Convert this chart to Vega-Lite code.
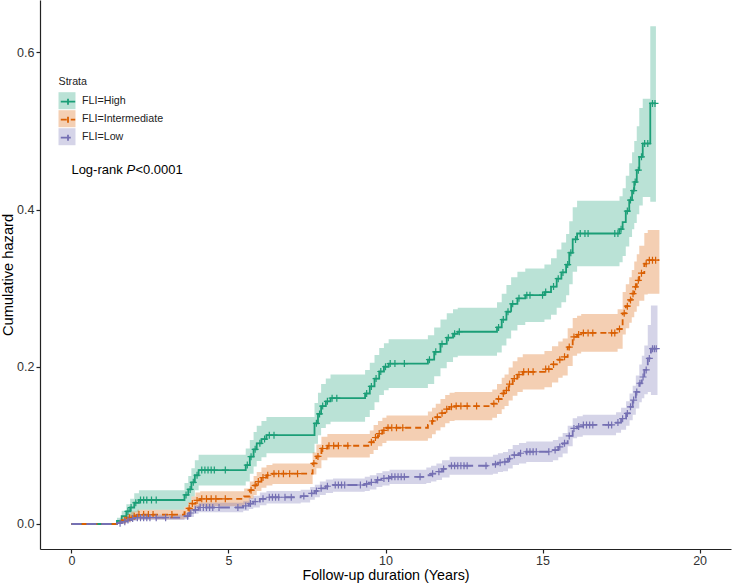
{
  "$schema": "https://vega.github.io/schema/vega-lite/v6.json",
  "width": 691,
  "height": 549,
  "autosize": {"type": "none"},
  "padding": {"left": 40, "top": 0, "right": 2, "bottom": 35},
  "background": "white",
  "config": {
    "view": {"stroke": null},
    "font": "Liberation Sans",
    "axis": {
      "grid": false,
      "domainColor": "#222222",
      "domainWidth": 1.2,
      "tickColor": "#222222",
      "tickWidth": 1.2,
      "tickSize": 4,
      "labelFontSize": 12.5,
      "labelColor": "#333333",
      "labelPadding": 2,
      "titleFontSize": 14.67,
      "titleFontWeight": "normal",
      "titleColor": "#000000"
    }
  },
  "datasets": {
    "curve": [
      {"s":"FLI=High","t":0,"v":0,"lo":0,"hi":0},
      {"s":"FLI=High","t":1.45,"v":0.004,"lo":0.0,"hi":0.008},
      {"s":"FLI=High","t":1.6,"v":0.010,"lo":0.003,"hi":0.017},
      {"s":"FLI=High","t":1.75,"v":0.016,"lo":0.007,"hi":0.025},
      {"s":"FLI=High","t":1.87,"v":0.021,"lo":0.010,"hi":0.032},
      {"s":"FLI=High","t":2.0,"v":0.027,"lo":0.015,"hi":0.039},
      {"s":"FLI=High","t":2.15,"v":0.0305,"lo":0.018,"hi":0.043},
      {"s":"FLI=High","t":3.6,"v":0.037,"lo":0.022,"hi":0.052},
      {"s":"FLI=High","t":3.72,"v":0.044,"lo":0.027,"hi":0.061},
      {"s":"FLI=High","t":3.82,"v":0.053,"lo":0.035,"hi":0.071},
      {"s":"FLI=High","t":3.93,"v":0.062,"lo":0.043,"hi":0.081},
      {"s":"FLI=High","t":4.05,"v":0.0686,"lo":0.049,"hi":0.088},
      {"s":"FLI=High","t":5.55,"v":0.075,"lo":0.054,"hi":0.096},
      {"s":"FLI=High","t":5.68,"v":0.0856,"lo":0.064,"hi":0.107},
      {"s":"FLI=High","t":5.8,"v":0.095,"lo":0.073,"hi":0.117},
      {"s":"FLI=High","t":5.9,"v":0.1026,"lo":0.080,"hi":0.125},
      {"s":"FLI=High","t":6.05,"v":0.108,"lo":0.085,"hi":0.131},
      {"s":"FLI=High","t":6.21,"v":0.113,"lo":0.090,"hi":0.136},
      {"s":"FLI=High","t":7.74,"v":0.128,"lo":0.102,"hi":0.154},
      {"s":"FLI=High","t":7.85,"v":0.140,"lo":0.113,"hi":0.167},
      {"s":"FLI=High","t":7.95,"v":0.150,"lo":0.122,"hi":0.178},
      {"s":"FLI=High","t":8.1,"v":0.156,"lo":0.127,"hi":0.185},
      {"s":"FLI=High","t":8.25,"v":0.160,"lo":0.130,"hi":0.190},
      {"s":"FLI=High","t":9.35,"v":0.166,"lo":0.136,"hi":0.196},
      {"s":"FLI=High","t":9.5,"v":0.175,"lo":0.145,"hi":0.205},
      {"s":"FLI=High","t":9.65,"v":0.185,"lo":0.155,"hi":0.215},
      {"s":"FLI=High","t":9.8,"v":0.194,"lo":0.164,"hi":0.224},
      {"s":"FLI=High","t":9.95,"v":0.200,"lo":0.170,"hi":0.230},
      {"s":"FLI=High","t":10.1,"v":0.204,"lo":0.173,"hi":0.235},
      {"s":"FLI=High","t":11.35,"v":0.209,"lo":0.178,"hi":0.240},
      {"s":"FLI=High","t":11.55,"v":0.219,"lo":0.188,"hi":0.250},
      {"s":"FLI=High","t":11.75,"v":0.229,"lo":0.198,"hi":0.260},
      {"s":"FLI=High","t":11.95,"v":0.237,"lo":0.206,"hi":0.268},
      {"s":"FLI=High","t":12.15,"v":0.242,"lo":0.212,"hi":0.273},
      {"s":"FLI=High","t":12.3,"v":0.2445,"lo":0.214,"hi":0.275},
      {"s":"FLI=High","t":13.55,"v":0.250,"lo":0.218,"hi":0.282},
      {"s":"FLI=High","t":13.7,"v":0.260,"lo":0.227,"hi":0.293},
      {"s":"FLI=High","t":13.85,"v":0.270,"lo":0.236,"hi":0.304},
      {"s":"FLI=High","t":14.0,"v":0.280,"lo":0.246,"hi":0.314},
      {"s":"FLI=High","t":14.2,"v":0.287,"lo":0.253,"hi":0.321},
      {"s":"FLI=High","t":14.45,"v":0.291,"lo":0.257,"hi":0.325},
      {"s":"FLI=High","t":15.06,"v":0.295,"lo":0.260,"hi":0.330},
      {"s":"FLI=High","t":15.27,"v":0.302,"lo":0.266,"hi":0.338},
      {"s":"FLI=High","t":15.45,"v":0.312,"lo":0.275,"hi":0.349},
      {"s":"FLI=High","t":15.6,"v":0.320,"lo":0.282,"hi":0.358},
      {"s":"FLI=High","t":15.75,"v":0.330,"lo":0.291,"hi":0.369},
      {"s":"FLI=High","t":15.85,"v":0.345,"lo":0.305,"hi":0.385},
      {"s":"FLI=High","t":15.96,"v":0.362,"lo":0.321,"hi":0.403},
      {"s":"FLI=High","t":16.1,"v":0.3695,"lo":0.328,"hi":0.411},
      {"s":"FLI=High","t":17.45,"v":0.375,"lo":0.333,"hi":0.417},
      {"s":"FLI=High","t":17.55,"v":0.384,"lo":0.341,"hi":0.427},
      {"s":"FLI=High","t":17.65,"v":0.398,"lo":0.353,"hi":0.443},
      {"s":"FLI=High","t":17.76,"v":0.412,"lo":0.365,"hi":0.459},
      {"s":"FLI=High","t":17.85,"v":0.424,"lo":0.375,"hi":0.473},
      {"s":"FLI=High","t":17.92,"v":0.435,"lo":0.383,"hi":0.487},
      {"s":"FLI=High","t":18.0,"v":0.450,"lo":0.394,"hi":0.506},
      {"s":"FLI=High","t":18.08,"v":0.467,"lo":0.405,"hi":0.529},
      {"s":"FLI=High","t":18.19,"v":0.484,"lo":0.416,"hi":0.541},
      {"s":"FLI=High","t":18.43,"v":0.535,"lo":0.410,"hi":0.633},
      {"s":"FLI=High","t":18.61,"v":0.535,"lo":0.410,"hi":0.633},

      {"s":"FLI=Intermediate","t":0,"v":0,"lo":0,"hi":0},
      {"s":"FLI=Intermediate","t":1.45,"v":0.002,"lo":0.0,"hi":0.004},
      {"s":"FLI=Intermediate","t":1.6,"v":0.005,"lo":0.001,"hi":0.009},
      {"s":"FLI=Intermediate","t":1.75,"v":0.008,"lo":0.003,"hi":0.013},
      {"s":"FLI=Intermediate","t":1.9,"v":0.010,"lo":0.005,"hi":0.016},
      {"s":"FLI=Intermediate","t":2.1,"v":0.012,"lo":0.006,"hi":0.018},
      {"s":"FLI=Intermediate","t":3.6,"v":0.015,"lo":0.008,"hi":0.022},
      {"s":"FLI=Intermediate","t":3.72,"v":0.020,"lo":0.012,"hi":0.028},
      {"s":"FLI=Intermediate","t":3.82,"v":0.026,"lo":0.017,"hi":0.035},
      {"s":"FLI=Intermediate","t":3.95,"v":0.030,"lo":0.021,"hi":0.040},
      {"s":"FLI=Intermediate","t":4.1,"v":0.032,"lo":0.0225,"hi":0.0415},
      {"s":"FLI=Intermediate","t":5.5,"v":0.035,"lo":0.025,"hi":0.045},
      {"s":"FLI=Intermediate","t":5.68,"v":0.043,"lo":0.032,"hi":0.054},
      {"s":"FLI=Intermediate","t":5.8,"v":0.049,"lo":0.037,"hi":0.061},
      {"s":"FLI=Intermediate","t":5.9,"v":0.054,"lo":0.042,"hi":0.066},
      {"s":"FLI=Intermediate","t":6.05,"v":0.059,"lo":0.046,"hi":0.072},
      {"s":"FLI=Intermediate","t":6.21,"v":0.062,"lo":0.049,"hi":0.075},
      {"s":"FLI=Intermediate","t":6.4,"v":0.064,"lo":0.051,"hi":0.077},
      {"s":"FLI=Intermediate","t":7.68,"v":0.077,"lo":0.063,"hi":0.091},
      {"s":"FLI=Intermediate","t":7.8,"v":0.086,"lo":0.071,"hi":0.101},
      {"s":"FLI=Intermediate","t":7.96,"v":0.096,"lo":0.081,"hi":0.111},
      {"s":"FLI=Intermediate","t":8.15,"v":0.0995,"lo":0.0845,"hi":0.1145},
      {"s":"FLI=Intermediate","t":9.5,"v":0.104,"lo":0.089,"hi":0.119},
      {"s":"FLI=Intermediate","t":9.62,"v":0.110,"lo":0.094,"hi":0.126},
      {"s":"FLI=Intermediate","t":9.76,"v":0.115,"lo":0.099,"hi":0.131},
      {"s":"FLI=Intermediate","t":9.9,"v":0.119,"lo":0.103,"hi":0.135},
      {"s":"FLI=Intermediate","t":10.03,"v":0.1224,"lo":0.106,"hi":0.138},
      {"s":"FLI=Intermediate","t":11.35,"v":0.126,"lo":0.109,"hi":0.143},
      {"s":"FLI=Intermediate","t":11.48,"v":0.131,"lo":0.114,"hi":0.148},
      {"s":"FLI=Intermediate","t":11.6,"v":0.136,"lo":0.119,"hi":0.153},
      {"s":"FLI=Intermediate","t":11.75,"v":0.141,"lo":0.123,"hi":0.159},
      {"s":"FLI=Intermediate","t":11.9,"v":0.146,"lo":0.128,"hi":0.164},
      {"s":"FLI=Intermediate","t":12.04,"v":0.149,"lo":0.131,"hi":0.167},
      {"s":"FLI=Intermediate","t":12.2,"v":0.150,"lo":0.132,"hi":0.168},
      {"s":"FLI=Intermediate","t":13.4,"v":0.153,"lo":0.135,"hi":0.171},
      {"s":"FLI=Intermediate","t":13.55,"v":0.159,"lo":0.140,"hi":0.178},
      {"s":"FLI=Intermediate","t":13.7,"v":0.166,"lo":0.146,"hi":0.186},
      {"s":"FLI=Intermediate","t":13.79,"v":0.170,"lo":0.150,"hi":0.190},
      {"s":"FLI=Intermediate","t":13.92,"v":0.178,"lo":0.157,"hi":0.199},
      {"s":"FLI=Intermediate","t":14.05,"v":0.185,"lo":0.163,"hi":0.207},
      {"s":"FLI=Intermediate","t":14.2,"v":0.190,"lo":0.168,"hi":0.212},
      {"s":"FLI=Intermediate","t":14.37,"v":0.1936,"lo":0.171,"hi":0.216},
      {"s":"FLI=Intermediate","t":15.06,"v":0.197,"lo":0.174,"hi":0.220},
      {"s":"FLI=Intermediate","t":15.3,"v":0.203,"lo":0.180,"hi":0.226},
      {"s":"FLI=Intermediate","t":15.5,"v":0.209,"lo":0.186,"hi":0.232},
      {"s":"FLI=Intermediate","t":15.64,"v":0.2127,"lo":0.189,"hi":0.236},
      {"s":"FLI=Intermediate","t":15.8,"v":0.225,"lo":0.201,"hi":0.249},
      {"s":"FLI=Intermediate","t":15.96,"v":0.238,"lo":0.214,"hi":0.262},
      {"s":"FLI=Intermediate","t":16.1,"v":0.241,"lo":0.217,"hi":0.265},
      {"s":"FLI=Intermediate","t":16.23,"v":0.243,"lo":0.219,"hi":0.267},
      {"s":"FLI=Intermediate","t":17.39,"v":0.248,"lo":0.223,"hi":0.273},
      {"s":"FLI=Intermediate","t":17.55,"v":0.268,"lo":0.241,"hi":0.295},
      {"s":"FLI=Intermediate","t":17.65,"v":0.277,"lo":0.249,"hi":0.305},
      {"s":"FLI=Intermediate","t":17.76,"v":0.285,"lo":0.256,"hi":0.314},
      {"s":"FLI=Intermediate","t":17.84,"v":0.293,"lo":0.263,"hi":0.323},
      {"s":"FLI=Intermediate","t":17.92,"v":0.3017,"lo":0.270,"hi":0.334},
      {"s":"FLI=Intermediate","t":18.0,"v":0.310,"lo":0.277,"hi":0.343},
      {"s":"FLI=Intermediate","t":18.08,"v":0.319,"lo":0.284,"hi":0.354},
      {"s":"FLI=Intermediate","t":18.24,"v":0.331,"lo":0.292,"hi":0.370},
      {"s":"FLI=Intermediate","t":18.35,"v":0.3356,"lo":0.293,"hi":0.374},
      {"s":"FLI=Intermediate","t":18.72,"v":0.3356,"lo":0.293,"hi":0.374},

      {"s":"FLI=Low","t":0,"v":0,"lo":0,"hi":0},
      {"s":"FLI=Low","t":1.45,"v":0.001,"lo":0.0,"hi":0.003},
      {"s":"FLI=Low","t":1.6,"v":0.003,"lo":0.001,"hi":0.005},
      {"s":"FLI=Low","t":1.75,"v":0.005,"lo":0.002,"hi":0.008},
      {"s":"FLI=Low","t":1.9,"v":0.007,"lo":0.004,"hi":0.010},
      {"s":"FLI=Low","t":2.1,"v":0.008,"lo":0.005,"hi":0.012},
      {"s":"FLI=Low","t":3.6,"v":0.010,"lo":0.006,"hi":0.014},
      {"s":"FLI=Low","t":3.75,"v":0.014,"lo":0.009,"hi":0.019},
      {"s":"FLI=Low","t":3.9,"v":0.018,"lo":0.013,"hi":0.024},
      {"s":"FLI=Low","t":4.05,"v":0.021,"lo":0.015,"hi":0.027},
      {"s":"FLI=Low","t":5.47,"v":0.023,"lo":0.017,"hi":0.029},
      {"s":"FLI=Low","t":5.65,"v":0.026,"lo":0.019,"hi":0.033},
      {"s":"FLI=Low","t":5.79,"v":0.0284,"lo":0.021,"hi":0.036},
      {"s":"FLI=Low","t":6.0,"v":0.032,"lo":0.024,"hi":0.040},
      {"s":"FLI=Low","t":6.21,"v":0.034,"lo":0.026,"hi":0.042},
      {"s":"FLI=Low","t":7.3,"v":0.0355,"lo":0.0275,"hi":0.0435},
      {"s":"FLI=Low","t":7.6,"v":0.039,"lo":0.031,"hi":0.047},
      {"s":"FLI=Low","t":7.75,"v":0.042,"lo":0.034,"hi":0.050},
      {"s":"FLI=Low","t":7.91,"v":0.0454,"lo":0.037,"hi":0.054},
      {"s":"FLI=Low","t":8.1,"v":0.048,"lo":0.0395,"hi":0.0565},
      {"s":"FLI=Low","t":8.33,"v":0.0496,"lo":0.041,"hi":0.058},
      {"s":"FLI=Low","t":9.34,"v":0.051,"lo":0.042,"hi":0.060},
      {"s":"FLI=Low","t":9.5,"v":0.053,"lo":0.044,"hi":0.062},
      {"s":"FLI=Low","t":9.71,"v":0.056,"lo":0.047,"hi":0.065},
      {"s":"FLI=Low","t":9.9,"v":0.058,"lo":0.049,"hi":0.067},
      {"s":"FLI=Low","t":10.13,"v":0.060,"lo":0.051,"hi":0.069},
      {"s":"FLI=Low","t":11.3,"v":0.062,"lo":0.052,"hi":0.072},
      {"s":"FLI=Low","t":11.45,"v":0.064,"lo":0.054,"hi":0.074},
      {"s":"FLI=Low","t":11.62,"v":0.0665,"lo":0.056,"hi":0.077},
      {"s":"FLI=Low","t":11.8,"v":0.070,"lo":0.059,"hi":0.081},
      {"s":"FLI=Low","t":12.04,"v":0.0741,"lo":0.0626,"hi":0.0856},
      {"s":"FLI=Low","t":13.42,"v":0.076,"lo":0.064,"hi":0.088},
      {"s":"FLI=Low","t":13.58,"v":0.078,"lo":0.066,"hi":0.090},
      {"s":"FLI=Low","t":13.74,"v":0.0792,"lo":0.067,"hi":0.0915},
      {"s":"FLI=Low","t":13.9,"v":0.083,"lo":0.0705,"hi":0.0955},
      {"s":"FLI=Low","t":14.05,"v":0.0877,"lo":0.075,"hi":0.1005},
      {"s":"FLI=Low","t":14.25,"v":0.090,"lo":0.077,"hi":0.103},
      {"s":"FLI=Low","t":14.48,"v":0.0919,"lo":0.0789,"hi":0.1049},
      {"s":"FLI=Low","t":15.33,"v":0.094,"lo":0.081,"hi":0.107},
      {"s":"FLI=Low","t":15.5,"v":0.098,"lo":0.085,"hi":0.111},
      {"s":"FLI=Low","t":15.64,"v":0.1026,"lo":0.0896,"hi":0.1156},
      {"s":"FLI=Low","t":15.8,"v":0.112,"lo":0.099,"hi":0.125},
      {"s":"FLI=Low","t":15.96,"v":0.1216,"lo":0.109,"hi":0.1345},
      {"s":"FLI=Low","t":16.1,"v":0.124,"lo":0.111,"hi":0.137},
      {"s":"FLI=Low","t":16.28,"v":0.126,"lo":0.113,"hi":0.139},
      {"s":"FLI=Low","t":17.34,"v":0.129,"lo":0.116,"hi":0.142},
      {"s":"FLI=Low","t":17.5,"v":0.134,"lo":0.120,"hi":0.148},
      {"s":"FLI=Low","t":17.66,"v":0.1407,"lo":0.125,"hi":0.156},
      {"s":"FLI=Low","t":17.77,"v":0.149,"lo":0.132,"hi":0.166},
      {"s":"FLI=Low","t":17.87,"v":0.1576,"lo":0.139,"hi":0.176},
      {"s":"FLI=Low","t":17.97,"v":0.168,"lo":0.147,"hi":0.189},
      {"s":"FLI=Low","t":18.08,"v":0.179,"lo":0.155,"hi":0.203},
      {"s":"FLI=Low","t":18.16,"v":0.187,"lo":0.160,"hi":0.214},
      {"s":"FLI=Low","t":18.24,"v":0.196,"lo":0.165,"hi":0.227},
      {"s":"FLI=Low","t":18.35,"v":0.2106,"lo":0.168,"hi":0.253},
      {"s":"FLI=Low","t":18.45,"v":0.223,"lo":0.164,"hi":0.278},
      {"s":"FLI=Low","t":18.66,"v":0.223,"lo":0.164,"hi":0.278}
    ],
    "censor": [
      {"s":"FLI=High","t":1.8,"v":0.016},{"s":"FLI=High","t":1.9,"v":0.021},{"s":"FLI=High","t":2.05,"v":0.027},
      {"s":"FLI=High","t":2.2,"v":0.0305},{"s":"FLI=High","t":2.3,"v":0.0305},{"s":"FLI=High","t":2.4,"v":0.0305},
      {"s":"FLI=High","t":2.55,"v":0.0305},{"s":"FLI=High","t":2.7,"v":0.0305},
      {"s":"FLI=High","t":3.65,"v":0.037},{"s":"FLI=High","t":3.78,"v":0.044},{"s":"FLI=High","t":3.88,"v":0.053},
      {"s":"FLI=High","t":4.0,"v":0.062},{"s":"FLI=High","t":4.15,"v":0.0686},{"s":"FLI=High","t":4.25,"v":0.0686},
      {"s":"FLI=High","t":4.35,"v":0.0686},{"s":"FLI=High","t":4.45,"v":0.0686},{"s":"FLI=High","t":4.55,"v":0.0686},
      {"s":"FLI=High","t":4.9,"v":0.0686},
      {"s":"FLI=High","t":5.6,"v":0.075},{"s":"FLI=High","t":5.72,"v":0.0856},{"s":"FLI=High","t":5.85,"v":0.095},
      {"s":"FLI=High","t":6.0,"v":0.1026},{"s":"FLI=High","t":6.15,"v":0.108},{"s":"FLI=High","t":6.3,"v":0.113},
      {"s":"FLI=High","t":6.45,"v":0.113},
      {"s":"FLI=High","t":7.8,"v":0.128},{"s":"FLI=High","t":7.9,"v":0.140},{"s":"FLI=High","t":8.0,"v":0.150},
      {"s":"FLI=High","t":8.15,"v":0.156},{"s":"FLI=High","t":8.3,"v":0.160},{"s":"FLI=High","t":8.45,"v":0.160},
      {"s":"FLI=High","t":9.4,"v":0.166},{"s":"FLI=High","t":9.55,"v":0.175},{"s":"FLI=High","t":9.7,"v":0.185},
      {"s":"FLI=High","t":9.85,"v":0.194},{"s":"FLI=High","t":10.0,"v":0.200},{"s":"FLI=High","t":10.15,"v":0.204},
      {"s":"FLI=High","t":10.3,"v":0.204},{"s":"FLI=High","t":10.6,"v":0.204},
      {"s":"FLI=High","t":11.4,"v":0.209},{"s":"FLI=High","t":11.6,"v":0.219},{"s":"FLI=High","t":11.8,"v":0.229},
      {"s":"FLI=High","t":12.0,"v":0.237},{"s":"FLI=High","t":12.2,"v":0.242},{"s":"FLI=High","t":12.35,"v":0.2445},
      {"s":"FLI=High","t":13.6,"v":0.250},{"s":"FLI=High","t":13.75,"v":0.260},{"s":"FLI=High","t":13.9,"v":0.270},
      {"s":"FLI=High","t":14.05,"v":0.280},{"s":"FLI=High","t":14.25,"v":0.287},{"s":"FLI=High","t":14.5,"v":0.291},
      {"s":"FLI=High","t":14.6,"v":0.291},{"s":"FLI=High","t":15.0,"v":0.291},
      {"s":"FLI=High","t":15.1,"v":0.295},{"s":"FLI=High","t":15.35,"v":0.302},{"s":"FLI=High","t":15.5,"v":0.312},
      {"s":"FLI=High","t":15.65,"v":0.320},{"s":"FLI=High","t":15.8,"v":0.330},{"s":"FLI=High","t":15.9,"v":0.345},
      {"s":"FLI=High","t":16.05,"v":0.362},{"s":"FLI=High","t":16.2,"v":0.3695},{"s":"FLI=High","t":16.35,"v":0.3695},
      {"s":"FLI=High","t":16.45,"v":0.3695},{"s":"FLI=High","t":17.3,"v":0.3695},{"s":"FLI=High","t":17.4,"v":0.3695},
      {"s":"FLI=High","t":17.5,"v":0.375},{"s":"FLI=High","t":17.7,"v":0.398},{"s":"FLI=High","t":17.8,"v":0.412},
      {"s":"FLI=High","t":17.9,"v":0.424},{"s":"FLI=High","t":17.95,"v":0.435},{"s":"FLI=High","t":18.05,"v":0.450},
      {"s":"FLI=High","t":18.15,"v":0.467},{"s":"FLI=High","t":18.25,"v":0.484},{"s":"FLI=High","t":18.35,"v":0.484},
      {"s":"FLI=High","t":18.5,"v":0.535},{"s":"FLI=High","t":18.58,"v":0.535},

      {"s":"FLI=Intermediate","t":1.7,"v":0.005},{"s":"FLI=Intermediate","t":1.85,"v":0.008},{"s":"FLI=Intermediate","t":2.0,"v":0.010},
      {"s":"FLI=Intermediate","t":2.15,"v":0.012},{"s":"FLI=Intermediate","t":2.3,"v":0.012},{"s":"FLI=Intermediate","t":2.45,"v":0.012},
      {"s":"FLI=Intermediate","t":2.6,"v":0.012},{"s":"FLI=Intermediate","t":3.2,"v":0.012},
      {"s":"FLI=Intermediate","t":3.75,"v":0.020},{"s":"FLI=Intermediate","t":3.85,"v":0.026},{"s":"FLI=Intermediate","t":4.0,"v":0.030},
      {"s":"FLI=Intermediate","t":4.15,"v":0.032},{"s":"FLI=Intermediate","t":4.3,"v":0.032},{"s":"FLI=Intermediate","t":4.45,"v":0.032},
      {"s":"FLI=Intermediate","t":4.6,"v":0.032},{"s":"FLI=Intermediate","t":4.9,"v":0.032},
      {"s":"FLI=Intermediate","t":5.72,"v":0.043},{"s":"FLI=Intermediate","t":5.85,"v":0.049},{"s":"FLI=Intermediate","t":5.95,"v":0.054},
      {"s":"FLI=Intermediate","t":6.1,"v":0.059},{"s":"FLI=Intermediate","t":6.25,"v":0.062},{"s":"FLI=Intermediate","t":6.45,"v":0.064},
      {"s":"FLI=Intermediate","t":6.6,"v":0.064},{"s":"FLI=Intermediate","t":6.75,"v":0.064},{"s":"FLI=Intermediate","t":6.95,"v":0.064},
      {"s":"FLI=Intermediate","t":7.2,"v":0.064},
      {"s":"FLI=Intermediate","t":7.72,"v":0.077},{"s":"FLI=Intermediate","t":7.85,"v":0.086},{"s":"FLI=Intermediate","t":8.0,"v":0.096},
      {"s":"FLI=Intermediate","t":8.2,"v":0.0995},{"s":"FLI=Intermediate","t":8.35,"v":0.0995},{"s":"FLI=Intermediate","t":8.5,"v":0.0995},
      {"s":"FLI=Intermediate","t":8.8,"v":0.0995},
      {"s":"FLI=Intermediate","t":9.55,"v":0.104},{"s":"FLI=Intermediate","t":9.68,"v":0.110},{"s":"FLI=Intermediate","t":9.8,"v":0.115},
      {"s":"FLI=Intermediate","t":9.95,"v":0.119},{"s":"FLI=Intermediate","t":10.08,"v":0.1224},{"s":"FLI=Intermediate","t":10.2,"v":0.1224},
      {"s":"FLI=Intermediate","t":10.35,"v":0.1224},{"s":"FLI=Intermediate","t":10.55,"v":0.1224},
      {"s":"FLI=Intermediate","t":11.5,"v":0.131},{"s":"FLI=Intermediate","t":11.65,"v":0.136},{"s":"FLI=Intermediate","t":11.8,"v":0.141},
      {"s":"FLI=Intermediate","t":11.95,"v":0.146},{"s":"FLI=Intermediate","t":12.1,"v":0.149},{"s":"FLI=Intermediate","t":12.25,"v":0.150},
      {"s":"FLI=Intermediate","t":12.4,"v":0.150},{"s":"FLI=Intermediate","t":12.6,"v":0.150},{"s":"FLI=Intermediate","t":12.9,"v":0.150},
      {"s":"FLI=Intermediate","t":13.45,"v":0.153},{"s":"FLI=Intermediate","t":13.6,"v":0.159},{"s":"FLI=Intermediate","t":13.75,"v":0.166},
      {"s":"FLI=Intermediate","t":13.85,"v":0.170},{"s":"FLI=Intermediate","t":13.95,"v":0.178},{"s":"FLI=Intermediate","t":14.1,"v":0.185},
      {"s":"FLI=Intermediate","t":14.25,"v":0.190},{"s":"FLI=Intermediate","t":14.4,"v":0.1936},{"s":"FLI=Intermediate","t":14.55,"v":0.1936},
      {"s":"FLI=Intermediate","t":14.7,"v":0.1936},
      {"s":"FLI=Intermediate","t":15.1,"v":0.197},{"s":"FLI=Intermediate","t":15.2,"v":0.197},{"s":"FLI=Intermediate","t":15.35,"v":0.203},
      {"s":"FLI=Intermediate","t":15.55,"v":0.209},{"s":"FLI=Intermediate","t":15.7,"v":0.2127},{"s":"FLI=Intermediate","t":15.85,"v":0.225},
      {"s":"FLI=Intermediate","t":16.0,"v":0.238},{"s":"FLI=Intermediate","t":16.15,"v":0.241},{"s":"FLI=Intermediate","t":16.3,"v":0.243},
      {"s":"FLI=Intermediate","t":16.45,"v":0.243},{"s":"FLI=Intermediate","t":16.6,"v":0.243},{"s":"FLI=Intermediate","t":17.2,"v":0.243},
      {"s":"FLI=Intermediate","t":17.3,"v":0.243},{"s":"FLI=Intermediate","t":17.45,"v":0.248},{"s":"FLI=Intermediate","t":17.6,"v":0.268},
      {"s":"FLI=Intermediate","t":17.7,"v":0.277},{"s":"FLI=Intermediate","t":17.8,"v":0.285},{"s":"FLI=Intermediate","t":17.88,"v":0.293},
      {"s":"FLI=Intermediate","t":17.96,"v":0.3017},{"s":"FLI=Intermediate","t":18.05,"v":0.310},{"s":"FLI=Intermediate","t":18.15,"v":0.319},
      {"s":"FLI=Intermediate","t":18.3,"v":0.331},{"s":"FLI=Intermediate","t":18.4,"v":0.3356},{"s":"FLI=Intermediate","t":18.5,"v":0.3356},
      {"s":"FLI=Intermediate","t":18.6,"v":0.3356},

      {"s":"FLI=Low","t":1.55,"v":0.001},{"s":"FLI=Low","t":1.7,"v":0.003},{"s":"FLI=Low","t":1.8,"v":0.005},
      {"s":"FLI=Low","t":1.95,"v":0.007},{"s":"FLI=Low","t":2.1,"v":0.008},{"s":"FLI=Low","t":2.2,"v":0.008},
      {"s":"FLI=Low","t":2.3,"v":0.008},{"s":"FLI=Low","t":2.4,"v":0.008},{"s":"FLI=Low","t":2.5,"v":0.008},
      {"s":"FLI=Low","t":2.7,"v":0.008},{"s":"FLI=Low","t":3.0,"v":0.008},
      {"s":"FLI=Low","t":3.7,"v":0.010},{"s":"FLI=Low","t":3.8,"v":0.014},{"s":"FLI=Low","t":3.95,"v":0.018},
      {"s":"FLI=Low","t":4.1,"v":0.021},{"s":"FLI=Low","t":4.2,"v":0.021},{"s":"FLI=Low","t":4.3,"v":0.021},
      {"s":"FLI=Low","t":4.4,"v":0.021},{"s":"FLI=Low","t":4.5,"v":0.021},{"s":"FLI=Low","t":4.7,"v":0.021},
      {"s":"FLI=Low","t":5.3,"v":0.021},
      {"s":"FLI=Low","t":5.55,"v":0.023},{"s":"FLI=Low","t":5.7,"v":0.026},{"s":"FLI=Low","t":5.85,"v":0.0284},
      {"s":"FLI=Low","t":6.1,"v":0.032},{"s":"FLI=Low","t":6.3,"v":0.034},{"s":"FLI=Low","t":6.4,"v":0.034},
      {"s":"FLI=Low","t":6.5,"v":0.034},{"s":"FLI=Low","t":6.6,"v":0.034},{"s":"FLI=Low","t":6.8,"v":0.034},
      {"s":"FLI=Low","t":7.0,"v":0.034},
      {"s":"FLI=Low","t":7.4,"v":0.0355},{"s":"FLI=Low","t":7.65,"v":0.039},{"s":"FLI=Low","t":7.8,"v":0.042},
      {"s":"FLI=Low","t":7.95,"v":0.0454},{"s":"FLI=Low","t":8.15,"v":0.048},{"s":"FLI=Low","t":8.4,"v":0.0496},
      {"s":"FLI=Low","t":8.5,"v":0.0496},{"s":"FLI=Low","t":8.6,"v":0.0496},{"s":"FLI=Low","t":8.7,"v":0.0496},
      {"s":"FLI=Low","t":9.2,"v":0.0496},
      {"s":"FLI=Low","t":9.4,"v":0.051},{"s":"FLI=Low","t":9.55,"v":0.053},{"s":"FLI=Low","t":9.75,"v":0.056},
      {"s":"FLI=Low","t":9.95,"v":0.058},{"s":"FLI=Low","t":10.1,"v":0.058},{"s":"FLI=Low","t":10.2,"v":0.060},
      {"s":"FLI=Low","t":10.3,"v":0.060},{"s":"FLI=Low","t":10.4,"v":0.060},{"s":"FLI=Low","t":10.5,"v":0.060},
      {"s":"FLI=Low","t":10.6,"v":0.060},{"s":"FLI=Low","t":11.1,"v":0.060},
      {"s":"FLI=Low","t":11.5,"v":0.064},{"s":"FLI=Low","t":11.7,"v":0.0665},{"s":"FLI=Low","t":11.85,"v":0.070},
      {"s":"FLI=Low","t":12.1,"v":0.0741},{"s":"FLI=Low","t":12.2,"v":0.0741},{"s":"FLI=Low","t":12.3,"v":0.0741},
      {"s":"FLI=Low","t":12.4,"v":0.0741},{"s":"FLI=Low","t":12.5,"v":0.0741},{"s":"FLI=Low","t":12.6,"v":0.0741},
      {"s":"FLI=Low","t":13.2,"v":0.0741},
      {"s":"FLI=Low","t":13.5,"v":0.076},{"s":"FLI=Low","t":13.65,"v":0.078},{"s":"FLI=Low","t":13.8,"v":0.0792},
      {"s":"FLI=Low","t":13.95,"v":0.083},{"s":"FLI=Low","t":14.1,"v":0.0877},{"s":"FLI=Low","t":14.3,"v":0.090},
      {"s":"FLI=Low","t":14.5,"v":0.0919},{"s":"FLI=Low","t":14.6,"v":0.0919},{"s":"FLI=Low","t":14.7,"v":0.0919},
      {"s":"FLI=Low","t":14.8,"v":0.0919},{"s":"FLI=Low","t":15.2,"v":0.0919},
      {"s":"FLI=Low","t":15.4,"v":0.094},{"s":"FLI=Low","t":15.55,"v":0.098},{"s":"FLI=Low","t":15.7,"v":0.1026},
      {"s":"FLI=Low","t":15.85,"v":0.112},{"s":"FLI=Low","t":16.0,"v":0.1216},{"s":"FLI=Low","t":16.15,"v":0.124},
      {"s":"FLI=Low","t":16.3,"v":0.126},{"s":"FLI=Low","t":16.4,"v":0.126},{"s":"FLI=Low","t":16.5,"v":0.126},
      {"s":"FLI=Low","t":16.6,"v":0.126},{"s":"FLI=Low","t":17.1,"v":0.126},{"s":"FLI=Low","t":17.2,"v":0.126},
      {"s":"FLI=Low","t":17.4,"v":0.129},{"s":"FLI=Low","t":17.55,"v":0.134},{"s":"FLI=Low","t":17.7,"v":0.1407},
      {"s":"FLI=Low","t":17.8,"v":0.149},{"s":"FLI=Low","t":17.9,"v":0.1576},{"s":"FLI=Low","t":18.0,"v":0.168},
      {"s":"FLI=Low","t":18.1,"v":0.179},{"s":"FLI=Low","t":18.2,"v":0.187},{"s":"FLI=Low","t":18.3,"v":0.196},
      {"s":"FLI=Low","t":18.4,"v":0.2106},{"s":"FLI=Low","t":18.5,"v":0.223},{"s":"FLI=Low","t":18.56,"v":0.223},
      {"s":"FLI=Low","t":18.62,"v":0.223}
    ],
    "note": [{"t": 0, "v": 0.45}]
  },
  "layer": [
    {
      "data": {"name": "curve"},
      "mark": {"type": "area", "interpolate": "step-after", "fillOpacity": 0.3},
      "encoding": {
        "x": {
          "field": "t", "type": "quantitative",
          "scale": {"domain": [-1, 21], "nice": false, "zero": false},
          "axis": {"values": [0, 5, 10, 15, 20], "labelPadding": 1, "titleY": 30, "titleBaseline": "alphabetic", "titleFontSize": 14.3, "labelFlush": false},
          "title": "Follow-up duration (Years)"
        },
        "y": {
          "field": "hi", "type": "quantitative",
          "scale": {"domain": [-0.0318, 0.6665], "nice": false, "zero": false},
          "axis": {"values": [0, 0.2, 0.4, 0.6], "format": ".1f", "titlePadding": 1, "labelFlush": false},
          "title": "Cumulative hazard"
        },
        "y2": {"field": "lo"},
        "fill": {
          "field": "s", "type": "nominal",
          "scale": {"range": ["#1B9E77", "#D95F02", "#7570B3"]},
          "legend": {
            "title": "Strata", "orient": "none", "legendX": 18.5, "legendY": 76.5, "padding": 0,
            "symbolType": "square", "symbolSize": 289, "symbolOpacity": 0.3, "symbolStrokeWidth": 0,
            "titleFontSize": 10.7, "titleFontWeight": "normal", "titleColor": "#222222", "titlePadding": 5,
            "labelFontSize": 10.7, "labelColor": "#222222", "labelOffset": 6.5, "rowPadding": 1, "zindex": 0
          }
        }
      }
    },
    {
      "data": {"name": "curve"},
      "mark": {"type": "line", "interpolate": "step-after", "strokeWidth": 1.8},
      "encoding": {
        "x": {"field": "t", "type": "quantitative"},
        "y": {"field": "v", "type": "quantitative"},
        "stroke": {
          "field": "s", "type": "nominal",
          "scale": {"domain": ["FLI=High", "FLI=Intermediate", "FLI=Low"], "range": ["#1B9E77", "#D95F02", "#7570B3"]},
          "legend": {
            "title": " ", "orient": "none", "legendX": 18.5, "legendY": 76.5, "padding": 0,
            "symbolType": "M-0.85,0H0.85M0,-0.35V0.35", "symbolSize": 289, "symbolStrokeWidth": 1.8,
            "titleFontSize": 10.7, "titleFontWeight": "normal", "titlePadding": 5,
            "labelFontSize": 10.7, "labelExpr": "''", "labelOffset": 6.5, "rowPadding": 1, "zindex": 1
          }
        },
        "strokeDash": {
          "field": "s", "type": "nominal",
          "scale": {"domain": ["FLI=High", "FLI=Intermediate", "FLI=Low"], "range": [[1, 0], [6, 4], [10, 5]]},
          "legend": {
            "title": " ", "orient": "none", "legendX": 18.5, "legendY": 76.5, "padding": 0,
            "symbolType": "M-0.85,0H0.85M0,-0.35V0.35", "symbolSize": 289, "symbolStrokeWidth": 1.8,
            "titleFontSize": 10.7, "titleFontWeight": "normal", "titlePadding": 5,
            "labelFontSize": 10.7, "labelExpr": "''", "labelOffset": 6.5, "rowPadding": 1, "zindex": 1
          }
        }
      }
    },
    {
      "data": {"name": "censor"},
      "mark": {"type": "point", "shape": "M-1,0H1M0,-1V1", "size": 49, "strokeWidth": 1.2, "filled": false, "opacity": 1},
      "encoding": {
        "x": {"field": "t", "type": "quantitative"},
        "y": {"field": "v", "type": "quantitative"},
        "stroke": {"field": "s", "type": "nominal"}
      }
    },
    {
      "data": {"name": "note"},
      "mark": {"type": "text", "text": "Log-rank", "align": "left", "baseline": "middle", "fontSize": 13, "color": "#000000"},
      "encoding": {"x": {"field": "t", "type": "quantitative"}, "y": {"field": "v", "type": "quantitative"}}
    },
    {
      "data": {"name": "note"},
      "mark": {"type": "text", "text": "P", "align": "left", "baseline": "middle", "fontSize": 13, "fontStyle": "italic", "dx": 55, "color": "#000000"},
      "encoding": {"x": {"field": "t", "type": "quantitative"}, "y": {"field": "v", "type": "quantitative"}}
    },
    {
      "data": {"name": "note"},
      "mark": {"type": "text", "text": "<0.0001", "align": "left", "baseline": "middle", "fontSize": 13, "dx": 64, "color": "#000000"},
      "encoding": {"x": {"field": "t", "type": "quantitative"}, "y": {"field": "v", "type": "quantitative"}}
    }
  ]
}
